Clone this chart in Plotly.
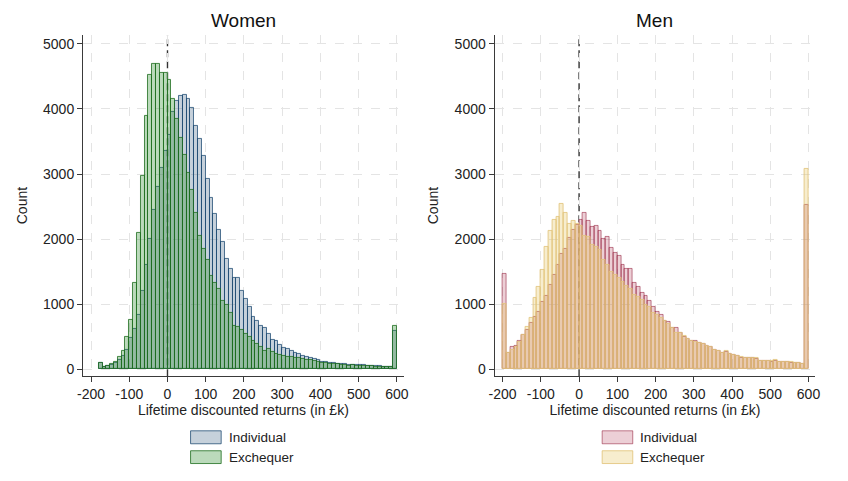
import plotly.graph_objects as go

# ---------------- data ----------------
BIN_WIDTH = 10
women_bins = list(range(-180, 600, 10))   # bin left edges, £k
men_bins = list(range(-200, 600, 10))

women_individual = [
    90, 30, 45, 70, 100, 140, 200, 290, 480,
    620, 830, 1200, 1600, 2000, 2450, 2800, 3100, 3350, 3600,
    3950, 4120, 4200, 4220, 4160, 4020, 3740, 3543, 3282, 2930,
    2633, 2393, 2137, 1958, 1697, 1544, 1411, 1400, 1207, 1074,
    951, 808, 741, 670, 629, 542, 450, 435, 378, 322,
    315, 286, 245, 232, 210, 184, 169, 160, 143, 118,
    112, 102, 92, 82, 78, 77, 72, 68, 63, 61,
    60, 56, 56, 48, 46, 41, 38, 37, 590,
]
women_exchequer = [
    95, 30, 50, 75, 115, 195, 280, 490, 757,
    1330, 2100, 2965, 3900, 4525, 4690, 4690, 4550, 4550, 4450,
    4150, 3850, 3560, 3290, 3020, 2750, 2400, 2055, 1856, 1677,
    1442, 1334, 1242, 1053, 982, 869, 665, 654, 603, 542,
    491, 435, 389, 348, 286, 307, 271, 235, 220, 210,
    194, 190, 179, 175, 158, 150, 143, 128, 107, 103,
    98, 82, 78, 77, 72, 66, 56, 61, 51, 46,
    46, 51, 46, 41, 41, 36, 36, 36, 665,
]
men_individual = [
    1462, 250, 337, 363, 435, 527, 603, 716, 808, 884,
    1038, 1125, 1293, 1447, 1600, 1779, 1856, 2025, 2137, 2214,
    2290, 2408, 2280, 2188, 2198, 2127, 2000, 2030, 1866, 1795,
    1738, 1610, 1544, 1544, 1329, 1268, 1166, 1130, 1053, 961,
    884, 833, 746, 726, 639, 629, 552, 501, 460, 440,
    440, 399, 389, 358, 337, 297, 281, 245, 265, 230,
    218, 205, 180, 168, 170, 172, 165, 128, 130, 130,
    120, 135, 115, 115, 105, 102, 92, 90, 82, 2520,
]
men_exchequer = [
    1002, 245, 297, 340, 420, 527, 644, 787, 1089, 1268,
    1534, 1881, 2122, 2290, 2342, 2546, 2403, 2240, 2275, 2230,
    2198, 2045, 2035, 1907, 1881, 1830, 1677, 1600, 1498, 1447,
    1396, 1345, 1278, 1227, 1140, 1115, 1063, 987, 961, 859,
    833, 782, 746, 695, 629, 562, 552, 510, 460, 440,
    424, 399, 383, 363, 340, 300, 283, 250, 275, 232,
    222, 212, 186, 170, 170, 180, 170, 130, 130, 135,
    125, 150, 120, 118, 108, 105, 94, 92, 84, 3083,
]

x_ticks = [-200, -100, 0, 100, 200, 300, 400, 500, 600]
x_tick_labels = ["-200", "-100", "0", "100", "200", "300", "400", "500", "600"]
y_ticks = [0, 1000, 2000, 3000, 4000, 5000]
series_names = ["Individual", "Exchequer"]

# ---------------- styling ----------------
W, H = 848, 481
FONT = "Liberation Sans, Arial, sans-serif"
styles = {
    "w_ind": dict(fill="rgba(26,71,111,0.25)", line="rgba(26,71,111,0.75)"),
    "w_exc": dict(fill="rgba(44,140,44,0.32)", line="rgba(30,110,30,0.8)"),
    "m_ind": dict(fill="rgba(165,30,60,0.21)", line="rgba(145,25,55,0.55)"),
    "m_exc": dict(fill="rgba(228,192,80,0.28)", line="rgba(226,196,125,0.85)"),
}

def px_x(p):
    return p / W

def px_y(p):
    return (H - p) / H

fig = go.Figure()

def add_hist(bins, vals, st, xa, ya, name):
    fig.add_trace(go.Bar(
        x=[b + BIN_WIDTH / 2 for b in bins], y=vals, width=BIN_WIDTH,
        name=name, showlegend=False,
        marker=dict(color=st["fill"], line=dict(color=st["line"], width=1)),
        xaxis=xa, yaxis=ya,
    ))

add_hist(women_bins, women_individual, styles["w_ind"], "x", "y", "Individual")
add_hist(women_bins, women_exchequer, styles["w_exc"], "x", "y", "Exchequer")
add_hist(men_bins, men_individual, styles["m_ind"], "x2", "y2", "Individual")
add_hist(men_bins, men_exchequer, styles["m_exc"], "x2", "y2", "Exchequer")

xdom1 = [px_x(78), px_x(403)]
xdom2 = [px_x(495), px_x(820)]
ydom = [px_y(377), px_y(35)]

axis_common = dict(
    showgrid=True, gridcolor="#e4e4e4", griddash="dash", gridwidth=1,
    zeroline=False, showline=True, linecolor="#3a3a3a", linewidth=1,
    ticks="outside", ticklen=5, tickcolor="#3a3a3a", tickwidth=1,
    tickfont=dict(family=FONT, size=14, color="#222"),
)

xaxis_common = dict(axis_common, range=[-221, 618], tickvals=x_ticks, ticktext=x_tick_labels,
                    title=dict(text="Lifetime discounted returns (in £k)",
                               font=dict(family=FONT, size=14, color="#222"),
                               standoff=3))
yaxis_common = dict(axis_common, range=[-107, 5138], tickvals=y_ticks,
                    title=dict(text="Count", font=dict(family=FONT, size=14, color="#222"),
                               standoff=12))

fig.update_layout(
    width=W, height=H, margin=dict(l=0, r=0, t=0, b=0),
    paper_bgcolor="white", plot_bgcolor="white",
    barmode="overlay", bargap=0,
    font=dict(family=FONT, size=13, color="#222"),
    xaxis=dict(xaxis_common, domain=xdom1, anchor="y"),
    yaxis=dict(yaxis_common, domain=ydom, anchor="x"),
    xaxis2=dict(xaxis_common, domain=xdom2, anchor="y2"),
    yaxis2=dict(yaxis_common, domain=ydom, anchor="x2"),
)

shapes = []
for xr, yr in [("x", "y domain"), ("x2", "y2 domain")]:
    shapes.append(dict(type="line", xref=xr, yref=yr, x0=0, x1=0, y0=0, y1=1,
                       line=dict(color="#333", width=1.4, dash="7px,4px"), layer="below"))

annotations = []
for title, dom in [("Women", xdom1), ("Men", xdom2)]:
    annotations.append(dict(text=title, x=(dom[0] + dom[1]) / 2, y=px_y(21),
                            xref="paper", yref="paper", showarrow=False,
                            xanchor="center", yanchor="middle",
                            font=dict(family=FONT, size=19, color="#111")))

legend_specs = [
    (187, 224, [styles["w_ind"], styles["w_exc"]]),
    (604, 640, [styles["m_ind"], styles["m_exc"]]),
]
rows = [(431.7, 444.7, 438), (451.7, 464.5, 458.5)]
for sx, tx, sts in legend_specs:
    for (ytop, ybot, yc), st, nm in zip(rows, sts, series_names):
        shapes.append(dict(type="rect", xref="paper", yref="paper",
                           x0=px_x(sx), x1=px_x(sx + 31), y0=px_y(ybot), y1=px_y(ytop),
                           fillcolor=st["fill"], line=dict(color=st["line"], width=1)))
        annotations.append(dict(text=nm, x=px_x(tx), y=px_y(yc), xref="paper", yref="paper",
                                showarrow=False, xanchor="left", yanchor="middle",
                                font=dict(family=FONT, size=13.5, color="#222")))

fig.update_layout(shapes=shapes, annotations=annotations)
fig.write_html("out.html")
